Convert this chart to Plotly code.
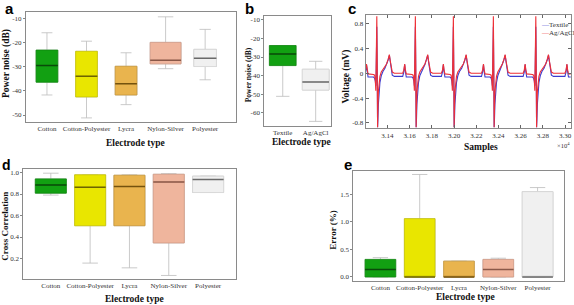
import plotly.graph_objects as go

W, H = 574, 305

# ---------------- data ----------------
# Panel a: power noise by textile electrode type (box statistics, dB)
A_CATS = ["Cotton", "Cotton-Polyester", "Lycra", "Nylon-Silver", "Polyester"]
A_UPPER = [-15.9, -19.4, -24.2, -9.3, -14.5]
A_Q3 = [-23.1, -23.6, -29.8, -19.9, -22.8]
A_MED = [-29.5, -33.9, -37.0, -27.3, -26.5]
A_Q1 = [-36.4, -42.5, -41.7, -28.8, -29.9]
A_LOWER = [-41.7, -51.2, -45.7, -30.8, -35.4]
A_TICKS = [-10, -20, -30, -40, -50]

# Panel b: textile vs Ag/AgCl power noise (dB)
B_CATS = ["Textile", "Ag/AgCl"]
B_UPPER = [-23.8, -32.3]
B_Q3 = [-23.8, -36.6]
B_MED = [-28.3, -43.4]
B_Q1 = [-34.6, -47.8]
B_LOWER = [-51.2, -64.7]
B_TICKS = [-10, -20, -30, -40, -50, -60]

# Panel c: ECG landmarks (samples) and waveform shapes (mV)
C_R_PEAKS = [31305, 31652, 31994, 32354, 32736]
C_T_PEAKS = [31418, 31763, 32109, 32460, 32850]
C_P_PEAKS = [31212, 31556, 31904, 32265, 32640, 33016]
C_END = 33070
QRS_OFF = [-30, -20, -14, -9, -6, -2, 0, 3, 7, 10, 14, 20, 28, 40, 55]
QRS_AG = [-0.02, -0.03, -0.10, -0.28, 0.10, 0.91, 0.92, 0.30, -0.87, -0.60, -0.30, -0.15, -0.05, 0.02, 0.06]
QRS_TX = [-0.06, -0.08, -0.12, -0.20, 0.00, 0.70, 0.75, 0.20, -0.87, -0.75, -0.50, -0.30, -0.15, -0.04, 0.03]
T_OFF = [-40, -25, -12, 0, 8, 16, 26, 45]
T_AG = [0.10, 0.15, 0.22, 0.30, 0.20, 0.08, 0.02, 0.00]
T_TX = [0.08, 0.14, 0.21, 0.29, 0.18, 0.05, -0.03, -0.05]
P_OFF = [-18, -8, 0, 6, 14]
P_AG = [0.00, 0.05, 0.15, 0.06, -0.01]
P_TX = [-0.05, 0.02, 0.14, 0.03, -0.06]
C_XTICKS = [31400, 31600, 31800, 32000, 32200, 32400, 32600, 32800, 33000]
C_XTEXT = ["3.14", "3.16", "3.18", "3.20", "3.22", "3.24", "3.26", "3.28", "3.30"]
C_YTICKS = [0.8, 0.4, 0, -0.4, -0.8]
C_YTEXT = ["0.8", "0.4", "0", "-0.4", "-0.8"]

# Panel d: cross correlation
D_UPPER = [0.994, 0.979, 0.979, 0.990, 0.966]
D_Q3 = [0.941, 0.979, 0.975, 0.984, 0.966]
D_MED = [0.885, 0.864, 0.870, 0.913, 0.935]
D_Q1 = [0.808, 0.505, 0.505, 0.345, 0.814]
D_LOWER = [0.790, 0.157, 0.113, 0.042, 0.814]
D_TICKS = [0.2, 0.4, 0.6, 0.8, 1.0]

# Panel e: error (%)
E_UPPER = [0.35, 1.857, 0.287, 0.34, 1.62]
E_Q3 = [0.318, 1.057, 0.287, 0.318, 1.546]
E_MED = [0.135, 0.0, 0.0, 0.135, 0.0]
E_Q1 = [0.0, 0.0, 0.0, 0.0, 0.0]
E_LOWER = [0.0, 0.0, 0.0, 0.0, 0.0]
E_TICKS = [0.0, 0.5, 1.0, 1.5]

# ---------------- style ----------------
FILL = {"Cotton": "#12a012", "Cotton-Polyester": "#e9e600", "Lycra": "#e9b44e",
        "Nylon-Silver": "#efb59d", "Polyester": "#f0f0f0",
        "Textile": "#12a012", "Ag/AgCl": "#f0f0f0"}
EDGE = {"Cotton": "#0e8a0e", "Cotton-Polyester": "#c9c500", "Lycra": "#c99838",
        "Nylon-Silver": "#d49c86", "Polyester": "#d8d8d8",
        "Textile": "#0e8a0e", "Ag/AgCl": "#d8d8d8"}
MEDC = {"Cotton": "#0a4a0a", "Cotton-Polyester": "#6e6400", "Lycra": "#74520e",
        "Nylon-Silver": "#8a5848", "Polyester": "#6a6a6a",
        "Textile": "#0a4a0a", "Ag/AgCl": "#6a6a6a"}
SERIF = "Liberation Serif, Times New Roman, serif"
SANS = "Liberation Sans, Arial, sans-serif"
FRAME = "#8a8a8a"


def dx(x0, x1):
    return [x0 / W, x1 / W]


def dy(y0, y1):
    return [1 - y1 / H, 1 - y0 / H]


fig = go.Figure()


def add_boxes(xa, ya, cats, lower, q1, med, q3, upper, widths):
    for i, c in enumerate(cats):
        common = dict(x=[c], xaxis=xa, yaxis=ya, width=widths[i], showlegend=False,
                      hoverinfo="skip", boxpoints=False)
        fig.add_trace(go.Box(q1=[q1[i]], median=[med[i]], q3=[q3[i]],
                             lowerfence=[lower[i]], upperfence=[upper[i]],
                             line=dict(color="#bcbcbc", width=0.8),
                             fillcolor="rgba(0,0,0,0)", whiskerwidth=0.5, **common))
        fig.add_trace(go.Box(q1=[q1[i]], median=[med[i]], q3=[q3[i]],
                             lowerfence=[q1[i]], upperfence=[q3[i]],
                             line=dict(color=EDGE[c], width=0.8),
                             fillcolor=FILL[c], whiskerwidth=0, **common))
        fig.add_trace(go.Box(q1=[med[i]], median=[med[i]], q3=[med[i]],
                             lowerfence=[med[i]], upperfence=[med[i]],
                             line=dict(color=MEDC[c], width=1.5),
                             fillcolor=MEDC[c], whiskerwidth=0, **common))


add_boxes("x", "y", A_CATS, A_LOWER, A_Q1, A_MED, A_Q3, A_UPPER, [0.55, 0.55, 0.55, 0.78, 0.57])
add_boxes("x2", "y2", B_CATS, B_LOWER, B_Q1, B_MED, B_Q3, B_UPPER, [0.81, 0.81])
add_boxes("x4", "y4", A_CATS, D_LOWER, D_Q1, D_MED, D_Q3, D_UPPER, [0.79] * 5)
add_boxes("x5", "y5", A_CATS, E_LOWER, E_Q1, E_MED, E_Q3, E_UPPER, [0.78] * 5)

# ECG traces
cx, cag, ctx = [], [], []


def add_seg(center, offs, ag, tx):
    for o, a, t in zip(offs, ag, tx):
        cx.append(center + o)
        cag.append(a)
        ctx.append(t)


add_seg(C_P_PEAKS[0], P_OFF, P_AG, P_TX)
for i, r in enumerate(C_R_PEAKS):
    add_seg(r, QRS_OFF, QRS_AG, QRS_TX)
    add_seg(C_T_PEAKS[i], T_OFF, T_AG, T_TX)
    add_seg(C_P_PEAKS[i + 1], P_OFF, P_AG, P_TX)
cx.append(C_END)
cag.append(P_AG[-1])
ctx.append(P_TX[-1])

fig.add_trace(go.Scatter(x=cx, y=ctx, mode="lines", name="Textile", xaxis="x3", yaxis="y3",
                         line=dict(color="#3c3ccf", width=1.1), showlegend=False, hoverinfo="skip"))
fig.add_trace(go.Scatter(x=cx, y=cag, mode="lines", name="Ag/AgCl", xaxis="x3", yaxis="y3",
                         line=dict(color="#ee2f36", width=1.1), showlegend=False, hoverinfo="skip"))

tickfont = dict(family=SERIF, size=7, color="#333333")
base_axis = dict(showline=True, linecolor=FRAME, linewidth=1, mirror=True, showgrid=False,
                 zeroline=False, tickfont=tickfont)


def cat_x(domain, cats, rng, anchor):
    return dict(base_axis, domain=domain, type="category", categoryorder="array",
                categoryarray=cats, range=rng, ticks="", anchor=anchor)


def num_y(domain, ticks, texts, rng, anchor):
    return dict(base_axis, domain=domain, range=rng, tickvals=ticks, ticktext=texts,
                ticks="outside", ticklen=2, tickwidth=0.8, tickcolor="#666666", anchor=anchor)


fig.update_layout(
    width=W, height=H, margin=dict(l=0, r=0, t=0, b=0),
    paper_bgcolor="white", plot_bgcolor="white", boxmode="overlay",
    xaxis=cat_x(dx(26, 236), A_CATS, [-0.53, 4.78], "y"),
    yaxis=num_y(dy(12, 122), A_TICKS, [str(v) for v in A_TICKS], [-52.9, -7.3], "x"),
    xaxis2=cat_x(dx(264.3, 330.5), B_CATS, [-0.56, 1.45], "y2"),
    yaxis2=num_y(dy(15.7, 126), B_TICKS, [str(v) for v in B_TICKS], [-67.2, -7.7], "x2"),
    xaxis3=dict(base_axis, domain=dx(365.7, 570.7), range=[31205, 33050], tickvals=C_XTICKS,
                ticktext=C_XTEXT, ticks="inside", ticklen=3, tickcolor="#666666",
                mirror="ticks", anchor="y3"),
    yaxis3=dict(base_axis, domain=dy(15, 128.3), range=[-0.887, 0.94], tickvals=C_YTICKS,
                ticktext=C_YTEXT, ticks="inside", ticklen=3, tickcolor="#666666",
                mirror="ticks", anchor="x3"),
    xaxis4=cat_x(dx(23.3, 236), A_CATS, [-0.7, 4.71], "y4"),
    yaxis4=num_y(dy(169, 279), D_TICKS, ["%.1f" % v for v in D_TICKS], [0.009, 1.033], "x4"),
    xaxis5=cat_x(dx(353.3, 564.3), A_CATS, [-0.69, 4.68], "y5"),
    yaxis5=num_y(dy(171, 281), E_TICKS, ["%.1f" % v for v in E_TICKS], [-0.073, 1.92], "x5"),
)

ann = []


def text(x, y, s, size, angle=0, bold=True, family=SERIF, xanchor="center", color="#111111"):
    ann.append(dict(x=x / W, y=1 - y / H, xref="paper", yref="paper", text=("<b>%s</b>" % s) if bold else s,
                    showarrow=False, textangle=angle, xanchor=xanchor, yanchor="middle",
                    font=dict(family=family, size=size, color=color)))


# panel letters
text(3, 9, "a", 15, family=SANS, xanchor="left", color="#000")
text(243, 9, "b", 15, family=SANS, xanchor="left", color="#000")
text(345.5, 8, "c", 15, family=SANS, xanchor="left", color="#000")
text(0, 164.5, "d", 14, family=SANS, xanchor="left", color="#000")
text(342, 164.5, "e", 15, family=SANS, xanchor="left", color="#000")

# axis titles
text(135.5, 142.5, "Electrode type", 9.5)
text(6, 64, "Power noise (dB)", 9.5, angle=-90)
text(301, 141.5, "Electrode type", 9.5)
text(248.3, 75, "Power noise (dB)", 7.5, angle=-90)
text(481, 146.5, "Samples", 9.5)
text(346.7, 76.7, "Voltage (mV)", 9.5, angle=-90)
text(572, 144.5, "×10<sup>4</sup>", 6.5, bold=False, xanchor="right", color="#333")
text(134, 299, "Electrode type", 9.5)
text(5, 226.7, "Cross Correlation", 9, angle=-90)
text(465, 297, "Electrode type", 9.5)
text(332.7, 230, "Error (%)", 9, angle=-90)

# legend of panel c
text(539, 25, '<span style="color:#3c3ccf">—</span>Textile', 7, bold=False, xanchor="left", color="#333")
text(539, 33, '<span style="color:#ee2f36">—</span>Ag/AgCl', 7, bold=False, xanchor="left", color="#333")

fig.update_layout(annotations=ann)
fig.write_html("out.html", config={"displayModeBar": False, "staticPlot": True},
               post_script="document.body.style.margin='0px';document.body.style.overflow='hidden';")
